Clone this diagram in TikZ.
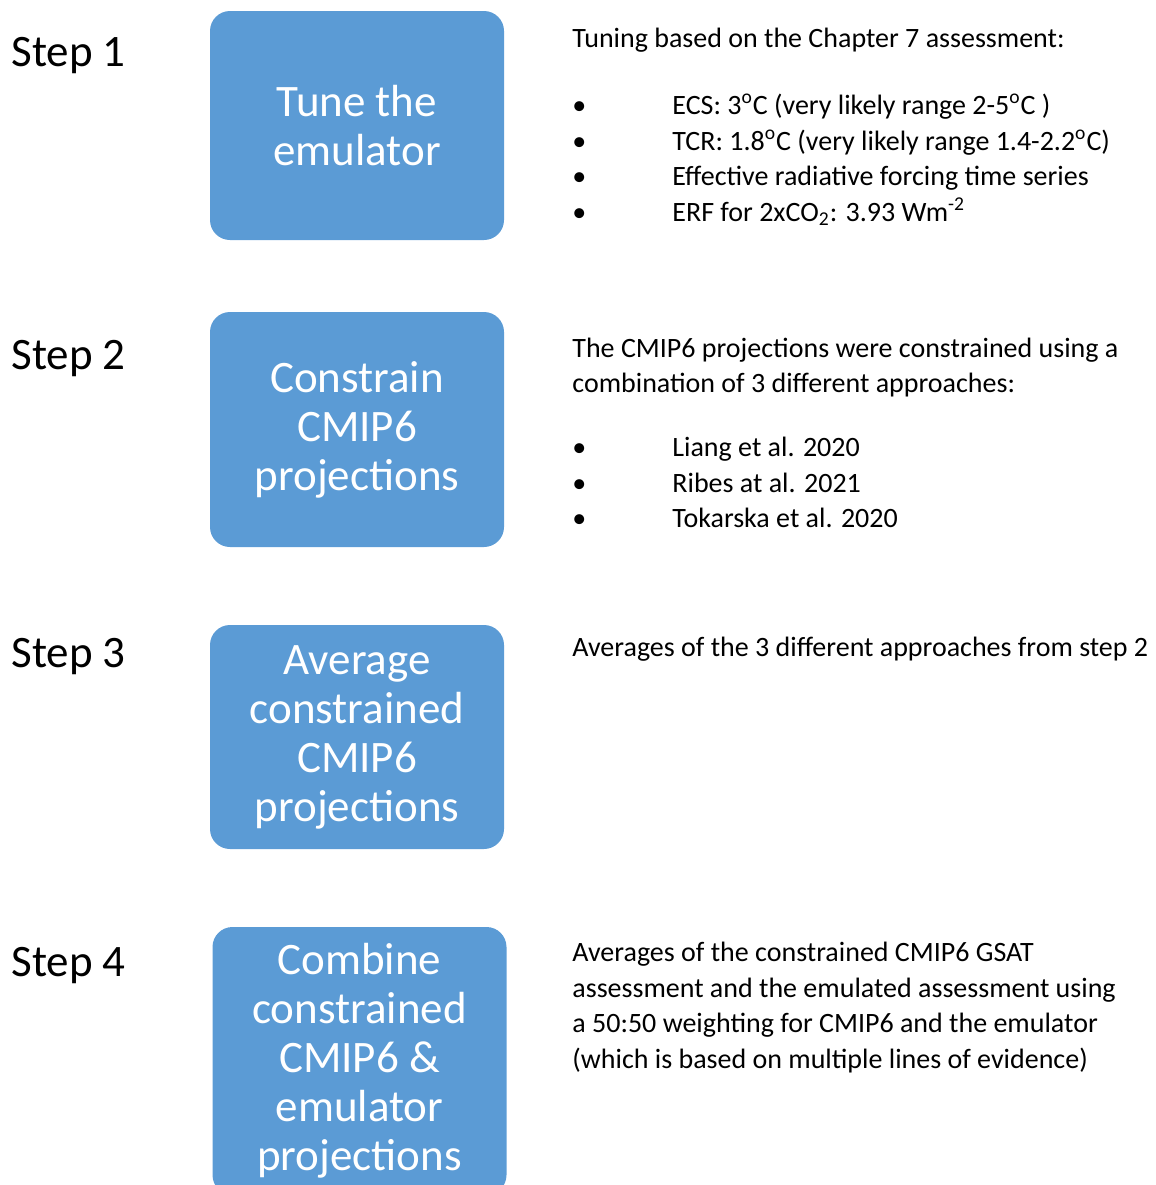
\documentclass[tikz,border=0pt]{standalone}
\usepackage{fontspec}
\setmainfont{Carlito}
\usepackage{xcolor}
\usetikzlibrary{positioning}
\definecolor{stepblue}{HTML}{5B9BD5}

\begin{document}
\begin{tikzpicture}[
  x=0.5pt, y=-0.5pt,
  box/.style={fill=stepblue, rounded corners=10pt, minimum width=147pt, align=center,
    text=white, font=\fontsize{22.5}{24.5}\selectfont},
  steplab/.style={anchor=base west, inner sep=0pt, font=\fontsize{22.5}{27}\selectfont},
  txt/.style={anchor=base west, inner sep=0pt, font=\fontsize{14}{17.8}\selectfont},
  item/.style={txt, execute at begin node={\makebox[50pt][l]{\textbullet}}}
]
\useasboundingbox (0,0) rectangle (1156,1185);
\clip (0,0) rectangle (1156,1185);

% boxes
\node[box, minimum height=114.5pt] (tune)    at (357,125.5) {Tune the\\emulator};
\node[box, minimum height=117.5pt] (constr)  at (357,429.5) {Constrain\\CMIP6\\projections};
\node[box, minimum height=112pt]   (avg)     at (357,737)   {Average\\constrained\\CMIP6\\projections};
\node[box, minimum height=134pt]   (combine) at (359.5,1061) {Combine\\constrained\\CMIP6 \&\\emulator\\projections};

% step labels
\node[steplab] (s1) at (11,66)  {Step 1};
\node[steplab] (s2) at (11,369) {Step 2};
\node[steplab] (s3) at (11,667) {Step 3};
\node[steplab] (s4) at (11,976) {Step 4};

% step 1 notes
\node[txt]  (t1)  at (572,47)  {Tuning based on the Chapter 7 assessment:};
\node[item] (t1a) at (572,114) {ECS: 3\textsuperscript{o}C (very likely range 2-5\textsuperscript{o}C )};
\node[item] (t1b) at (572,150) {TCR: 1.8\textsuperscript{o}C (very likely range 1.4-2.2\textsuperscript{o}C)};
\node[item] (t1c) at (572,185) {Effective radiative forcing time series};
\node[item] (t1d) at (572,221) {ERF for 2xCO\textsubscript{2}: 3.93 Wm\textsuperscript{-2}};

% step 2 notes
\node[txt]  (t2)  at (572,357) {The CMIP6 projections were constrained using a};
\node[txt]  (t2b) at (572,392) {combination of 3 different approaches:};
\node[item] (t2c) at (572,456) {Liang et al. 2020};
\node[item] (t2d) at (572,492) {Ribes at al. 2021};
\node[item] (t2e) at (572,527) {Tokarska et al. 2020};

% step 3 notes
\node[txt] (t3) at (572,656) {Averages of the 3 different approaches from step 2};

% step 4 notes
\node[txt] (t4)  at (572,961)  {Averages of the constrained CMIP6 GSAT};
\node[txt] (t4b) at (572,997)  {assessment and the emulated assessment using};
\node[txt] (t4c) at (572,1032) {a 50:50 weighting for CMIP6 and the emulator};
\node[txt] (t4d) at (572,1068) {(which is based on multiple lines of evidence)};
\end{tikzpicture}
\end{document}
